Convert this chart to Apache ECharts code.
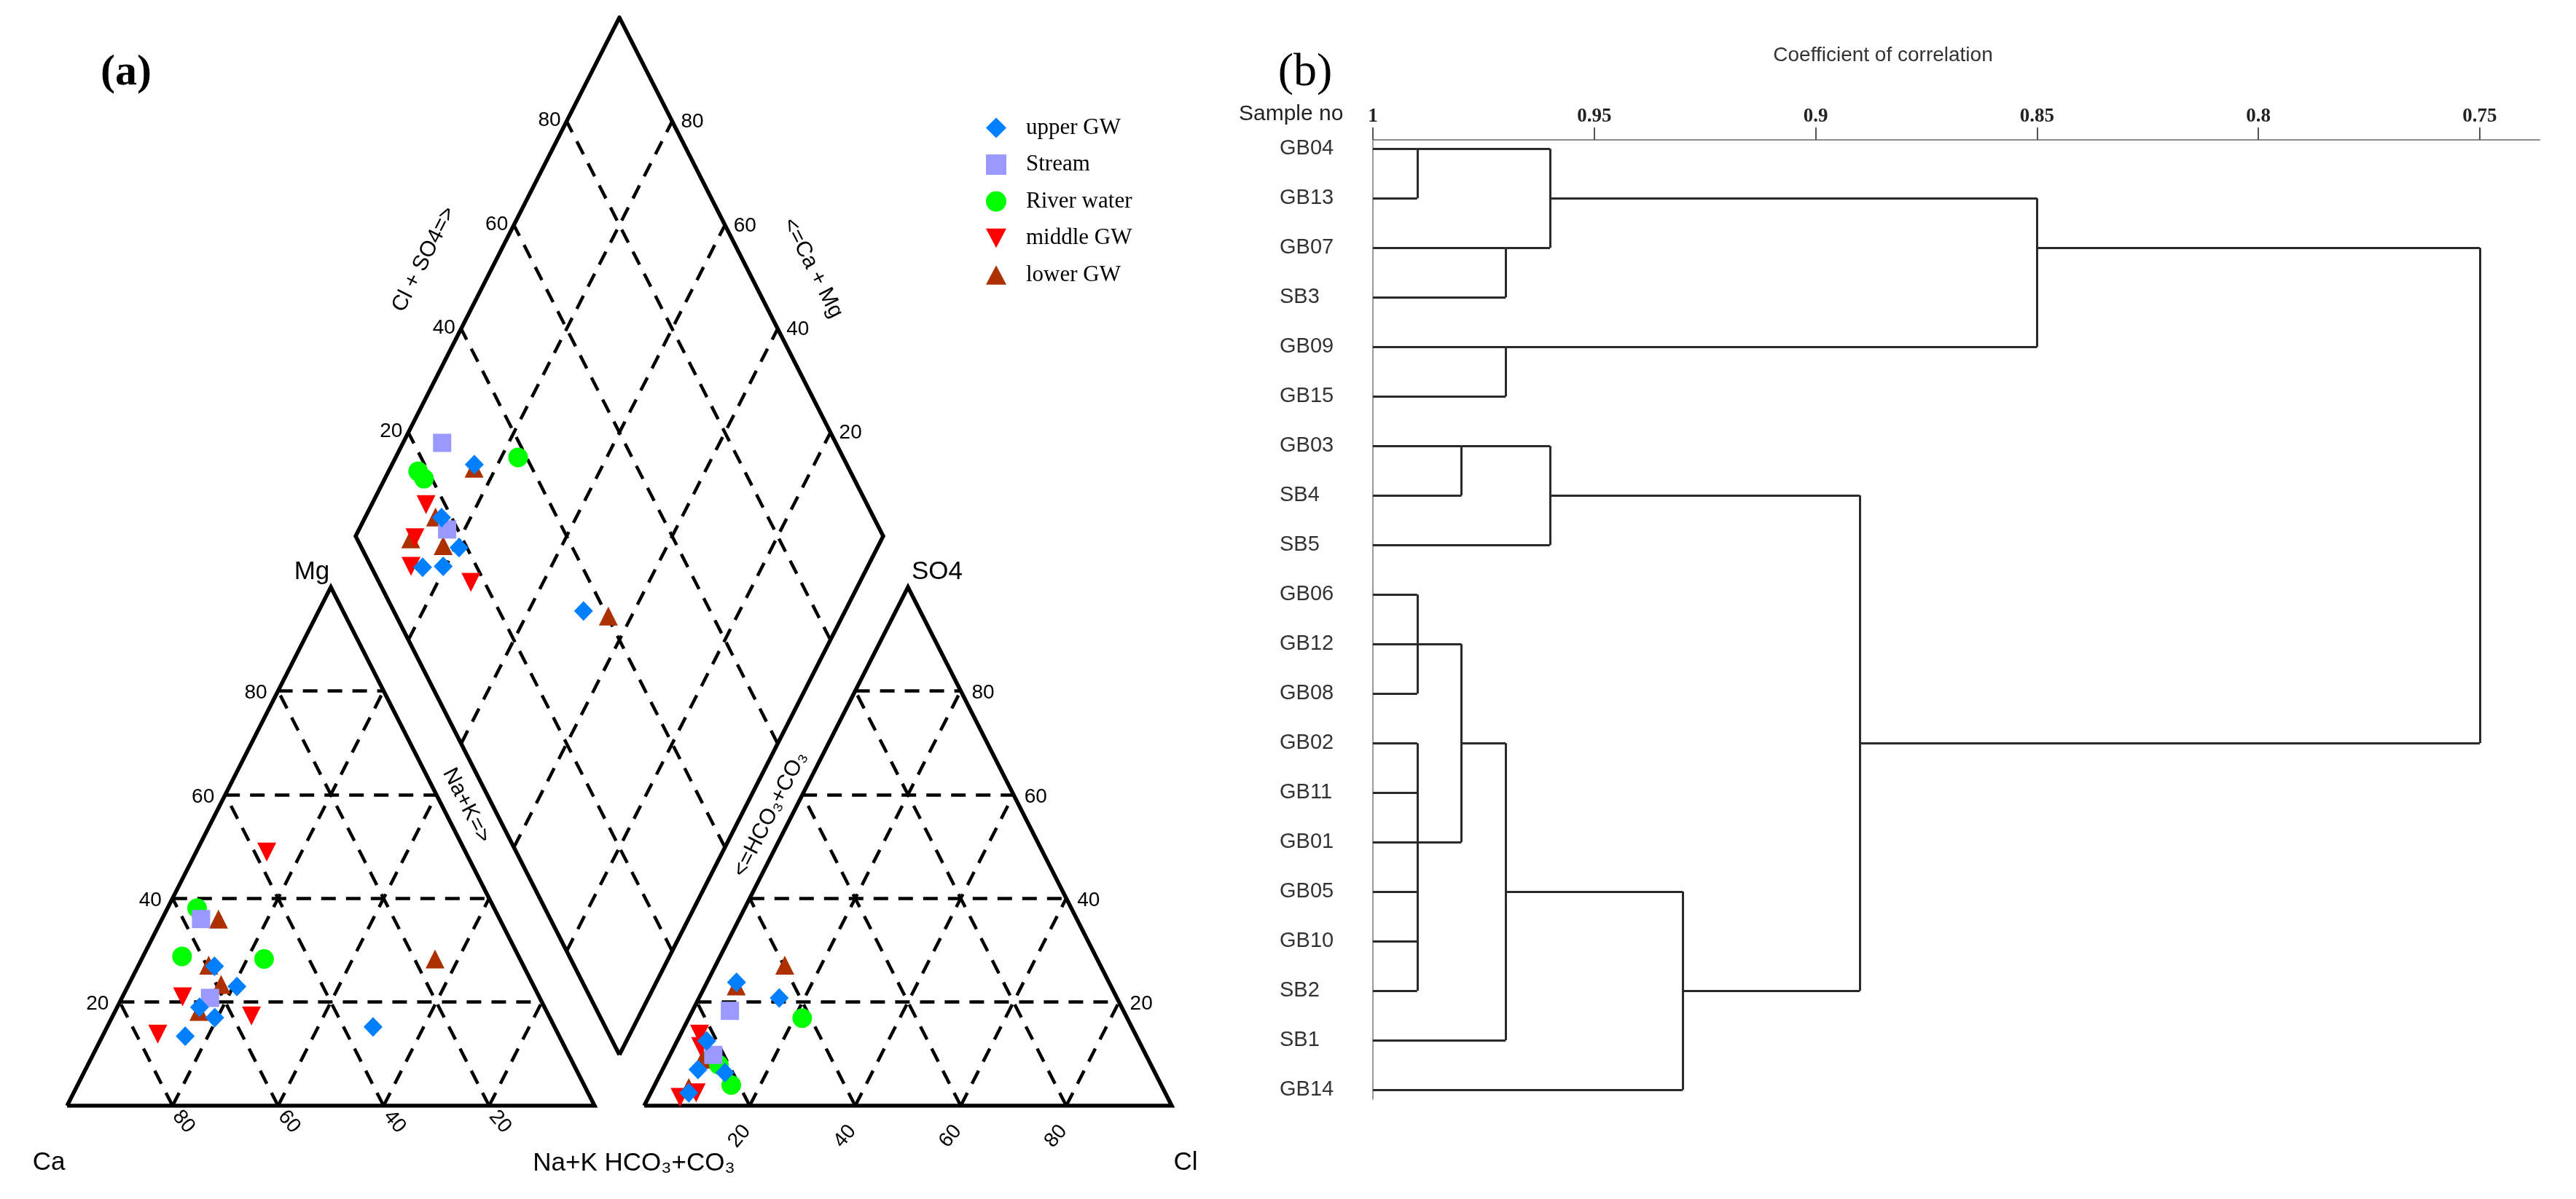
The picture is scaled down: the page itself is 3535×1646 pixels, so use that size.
<!DOCTYPE html>
<html><head><meta charset="utf-8">
<script src="https://cdn.jsdelivr.net/npm/echarts@6/dist/echarts.min.js"></script>
<style>html,body{margin:0;padding:0;background:#fff}#c{width:3535px;height:1646px}</style>
</head><body><div id="c"></div>
<script>
// ===== Piper diagram data (% meq) =====
// cations: [Ca, Mg, Na+K]   anions: [HCO3+CO3, SO4, Cl]
const upperGW_cat = [[58.6,26.9,14.5],[56.3,23.0,20.7],[65.4,19.0,15.6],[63.5,17.0,19.5],[70.9,13.4,15.7],[34.4,15.2,50.4]];
const upperGW_an  = [[81.9,12.5,5.6],[81.5,6.4,12.1],[70.6,23.8,5.6],[86.3,7.0,6.7],[90.3,2.5,7.2],[64.0,20.8,15.2]];
const stream_cat  = [[56.6,36.0,7.4],[62.5,20.8,16.7]];
const stream_an   = [[74.6,18.3,7.1],[82.0,9.8,8.2]];
const river_cat   = [[56.3,38.1,5.6],[63.8,28.8,7.4],[48.5,28.3,23.2]];
const river_an    = [[81.9,7.9,10.2],[81.5,4.0,14.5],[61.6,16.9,21.5]];
const middleGW_cat= [[37.7,48.9,13.4],[67.6,21.0,11.4],[56.4,17.3,26.3],[75.9,13.8,10.3]];
const middleGW_an = [[92.4,1.6,6.0],[88.9,2.5,8.6],[82.6,13.8,3.6],[83.6,11.4,5.0]];
const lowerGW_cat = [[53.3,36.0,10.7],[59.6,27.1,13.3],[59.1,23.4,17.5],[16.1,28.3,55.6],[65.9,18.2,15.9]];
const lowerGW_an  = [[89.8,3.5,6.7],[83.0,9.0,8.0],[84.3,9.1,6.6],[59.8,27.1,13.1],[71.0,23.1,5.9]];
const gridTicks = [20,40,60,80];

// ===== Dendrogram data =====
const leaves = ['GB04','GB13','GB07','SB3','GB09','GB15','GB03','SB4','SB5','GB06','GB12','GB08','GB02','GB11','GB01','GB05','GB10','SB2','SB1','GB14'];
// merge: [coefficient, child node ids, row where the merged branch continues]
// node ids 0..19 are leaves, 20.. are merges in this order
const merges = [
  [0.99,[0,1],0],          //20
  [0.97,[2,3],2],          //21
  [0.96,[20,21],1],        //22
  [0.97,[4,5],4],          //23
  [0.85,[22,23],2],        //24
  [0.98,[6,7],6],          //25
  [0.96,[25,8],7],         //26
  [0.99,[9,10,11],10],     //27
  [0.99,[12,13,14,15,16,17],14], //28
  [0.98,[27,28],12],       //29
  [0.97,[29,18],15],       //30
  [0.93,[30,19],17],       //31
  [0.89,[26,31],12],       //32
  [0.75,[24,32],7]         //33 root
];
const corrTicks = [1,0.95,0.9,0.85,0.8,0.75];

// ===== geometry helpers =====
const S3 = Math.sqrt(3)/2, GAP = 9.392, DOFF = 8.5;
const catXY = c => [c[2] + c[1]/2, c[1]*S3];
const anXY  = a => [100+GAP + a[2] + a[1]/2, a[1]*S3];
const dia   = (cm, sc) => [100+GAP/2 + (sc-cm)/2, DOFF + (cm+sc)*S3];
const diaXY = (c,a) => dia(c[0]+c[1], a[1]+a[2]);
function pts(cat, an){
  const out=[];
  cat.forEach((c,i)=>{ out.push(catXY(c)); out.push(anXY(an[i])); out.push(diaXY(c,an[i])); });
  return out;
}
// grid lines
const dashed = [];
gridTicks.forEach(v=>{
  dashed.push([[v/2, v*S3],[100-v/2, v*S3]]);
  dashed.push([[100-v,0],[(100-v)/2,(100-v)*S3]]);
  dashed.push([[v,0],[v+(100-v)/2,(100-v)*S3]]);
  const o = 100+GAP;
  dashed.push([[o+v/2, v*S3],[o+100-v/2, v*S3]]);
  dashed.push([[o+100-v,0],[o+(100-v)/2,(100-v)*S3]]);
  dashed.push([[o+v,0],[o+v+(100-v)/2,(100-v)*S3]]);
  dashed.push([dia(0,v), dia(100,v)]);
  dashed.push([dia(v,0), dia(v,100)]);
});
const outlines = [
  [[0,0],[100,0],[50,100*S3],[0,0]],
  [[100+GAP,0],[200+GAP,0],[150+GAP,100*S3],[100+GAP,0]],
  [dia(0,0),dia(100,0),dia(100,100),dia(0,100),dia(0,0)]
];

// dendrogram segments
const nodes = leaves.map((n,i)=>({h:1,row:i}));
const dSegs = [];
merges.forEach(m=>{
  const [h,kids,row]=m;
  const rows = kids.map(k=>nodes[k].row);
  dSegs.push([[h,Math.min(...rows)],[h,Math.max(...rows)]]);
  kids.forEach(k=>dSegs.push([[nodes[k].h,nodes[k].row],[h,nodes[k].row]]));
  nodes.push({h,row});
});

const downTri = 'path://M0,0L20,0L10,19Z';
const upTri = 'path://M10,0L20,19L0,19Z';
const seriesDefs = [
  ['lower GW', lowerGW_cat, lowerGW_an, upTri, '#AD3100', [26,26]],
  ['middle GW', middleGW_cat, middleGW_an, downTri, '#FF0000', [26,26]],
  ['River water', river_cat, river_an, 'circle', '#00FF00', 27],
  ['Stream', stream_cat, stream_an, 'rect', '#9999FF', [25,25]],
  ['upper GW', upperGW_cat, upperGW_an, 'diamond', '#0080FF', [26,27]]
];

const SANS = '"Liberation Sans", Arial, "DejaVu Sans", sans-serif';
const SERIF = '"Liberation Serif", "Times New Roman", serif';

const chart = echarts.init(document.getElementById('c'), null, {renderer:'canvas'});
const option = {
  animation:false,
  backgroundColor:'#fff',
  grid:[
    {left:92, top:24, width:1516, height:1494},
    {left:1884, top:192, width:1601, height:1317}
  ],
  xAxis:[
    {gridIndex:0, type:'value', min:0, max:200+GAP, show:false},
    {gridIndex:1, type:'value', inverse:true, min:0.7365, max:1, position:'top',
     axisLine:{show:true, onZero:false, lineStyle:{color:'#8a8a8a', width:2}},
     axisTick:{show:true, length:17, customValues:corrTicks, lineStyle:{color:'#555', width:2}},
     axisLabel:{show:true, customValues:corrTicks, margin:18, formatter:v=>String(+(+v).toFixed(2)),
       color:'#222', fontFamily:SERIF, fontWeight:'bold', fontSize:27},
     splitLine:{show:false}}
  ],
  yAxis:[
    {gridIndex:0, type:'value', min:0, max:181.72, show:false},
    {gridIndex:1, type:'value', inverse:true, min:-0.18, max:19.19,
     axisLine:{show:true, onZero:false, lineStyle:{color:'#9a9a9a', width:2}},
     axisTick:{show:false}, axisLabel:{show:false}, splitLine:{show:false}}
  ],
  legend:{
    orient:'vertical', left:1348, top:155, itemWidth:28, itemHeight:28, itemGap:19.5,
    data:['upper GW','Stream','River water','middle GW','lower GW'],
    textStyle:{fontFamily:SERIF, fontSize:31, color:'#000', lineHeight:28, padding:[0,0,0,22]},
    selectedMode:false
  },
  series:[
    {type:'lines', coordinateSystem:'cartesian2d', xAxisIndex:0, yAxisIndex:0, polyline:false, silent:true,
     lineStyle:{color:'#000', width:4.5, type:[20,14], opacity:1},
     data:dashed.map(c=>({coords:c})), z:1},
    ...outlines.map(o=>({type:'line', xAxisIndex:0, yAxisIndex:0, data:o, symbol:'none', silent:true,
      lineStyle:{color:'#000', width:5.5, join:'miter'}, z:2})),
    ...seriesDefs.map(d=>({name:d[0], type:'scatter', xAxisIndex:0, yAxisIndex:0,
      data:pts(d[1],d[2]), symbol:d[3], symbolSize:d[5], itemStyle:{color:d[4], opacity:1}, z:3})),
    {type:'lines', coordinateSystem:'cartesian2d', xAxisIndex:1, yAxisIndex:1, polyline:false, silent:true,
     lineStyle:{color:'#2a2a2a', width:3, opacity:1},
     data:dSegs.map(c=>({coords:c}))}
  ]
};
chart.setOption(option);

// ===== text (positions derived from the axes) =====
const P0 = (x,y)=>chart.convertToPixel({gridIndex:0},[x,y]);
const P1 = (x,y)=>chart.convertToPixel({gridIndex:1},[x,y]);
const g = [];
function T(x,y,text,font,opt){
  opt = opt||{};
  g.push({type:'text', x:x, y:y, rotation:(opt.rot||0)*Math.PI/180, z:10, silent:true,
    style:{text:text, font:font, fill:opt.fill||'#000', align:opt.align||'center', verticalAlign:opt.va||'middle'}});
}
const tickFont = '28px '+SANS, titleFont = '35px '+SANS, sideFont='30px '+SANS;
gridTicks.forEach(v=>{
  let p;
  p = P0(v/2, v*S3);                     T(p[0]-15, p[1]+3, String(v), tickFont, {align:'right'});
  p = P0(100-v, 0);                      T(p[0]+5, p[1]+10, String(v), tickFont, {align:'left', rot:-50});
  p = P0(100+GAP+v, 0);                  T(p[0]-4, p[1]+30, String(v), tickFont, {align:'right', rot:50});
  p = P0(200+GAP-v/2, v*S3);             T(p[0]+15, p[1]+3, String(v), tickFont, {align:'left'});
  p = P0(...dia(100, v));                T(p[0]-8, p[1]-1, String(v), tickFont, {align:'right'});
  p = P0(...dia(v, 100));                T(p[0]+12, p[1]+1, String(v), tickFont, {align:'left'});
});
T(428, 785, 'Mg', titleFont);
T(1286, 785, 'SO4', titleFont);
T(67, 1596, 'Ca', titleFont);
T(1627, 1596, 'Cl', titleFont);
T(870, 1597, 'Na+K HCO\u2083+CO\u2083', titleFont);
T(640, 1106, 'Na+K=>', sideFont, {rot:-63});
T(1057, 1118, '<=HCO\u2083+CO\u2083', sideFont, {rot:63});
T(582, 356, 'Cl + SO4=>', sideFont, {rot:63});
T(1115, 368, '<=Ca + Mg', sideFont, {rot:-63});
T(173, 100, '(a)', 'bold 60px '+SERIF);

// dendrogram texts
leaves.forEach((n,i)=>{ const p=P1(1,i); T(p[0]-128, p[1], n, '29px '+SANS, {align:'left', fill:'#333'}); });
T(1700, 157, 'Sample no', '30px '+SANS, {align:'left', fill:'#222'});
T(2584, 76, 'Coefficient of correlation', '28px '+SANS, {fill:'#333'});
T(1791, 100, '(b)', '64px '+SERIF);

chart.setOption({graphic:g});
</script>
</body></html>
